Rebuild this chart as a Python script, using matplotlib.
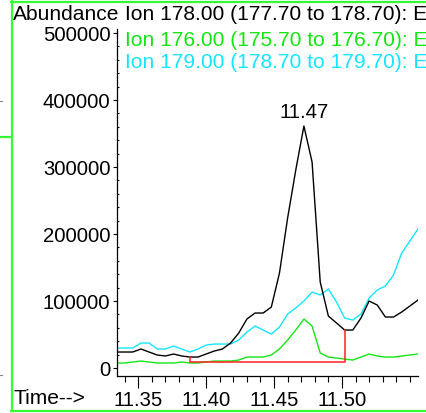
import matplotlib
matplotlib.use("Agg")
import matplotlib.pyplot as plt
from matplotlib.lines import Line2D
from matplotlib.ticker import MultipleLocator

plt.rcParams['font.family'] = ['Liberation Sans', 'DejaVu Sans']

# Retention time of each scan (min)
scan_times = [11.334, 11.340, 11.346, 11.352, 11.358, 11.364, 11.370, 11.376,
              11.382, 11.388, 11.394, 11.400, 11.406, 11.412, 11.418, 11.424,
              11.430, 11.436, 11.442, 11.448, 11.454, 11.460, 11.466, 11.472,
              11.478, 11.484, 11.490, 11.496, 11.502, 11.508, 11.514, 11.520,
              11.526, 11.532, 11.538, 11.544, 11.550, 11.556]

# Extracted ion abundances
ion_178 = [23900, 23900, 23900, 28400, 23900, 19400, 18000, 20900,
           18000, 16400, 16400, 20900, 25400, 28400, 37300, 52200,
           73100, 82100, 82100, 91000, 141800, 223900, 295500, 361200,
           307500, 128400, 77600, 67200, 56700, 56700, 74600, 100000,
           94000, 76100, 76100, 83600, 92500, 101500]
ion_176 = [7500, 7500, 9000, 10400, 9000, 7500, 7500, 7500,
           9000, 7500, 7500, 9000, 10400, 10400, 10400, 11900,
           16400, 16400, 16400, 19400, 28400, 41800, 56700, 73100,
           62700, 22400, 16400, 14900, 13400, 11900, 16400, 20900,
           17900, 16400, 16400, 17900, 19400, 20900]
ion_179 = [29900, 29900, 29900, 37300, 37300, 28400, 28400, 32800,
           28400, 23900, 28400, 34300, 35800, 35800, 35800, 41800,
           53700, 62700, 56700, 50700, 61200, 80600, 89600, 100000,
           113400, 109000, 117900, 98500, 74600, 71600, 80600, 104500,
           116400, 122400, 138800, 171600, 189500, 207500]

trace_labels = ["Ion 178.00 (177.70 to 178.70): E",
                "Ion 176.00 (175.70 to 176.70): E",
                "Ion 179.00 (178.70 to 179.70): E"]

# Integration of the 178 peak
peak_start_idx = 9
peak_end_idx = 28
baseline_level = 9000
peak_label = "11.47"

black = "#000000"
green = "#14e614"
cyan = "#14e6ff"
frame_green = "#33ff33"
fs_tick = 14.6
fs_head = 15.1

fig = plt.figure(figsize=(4.26, 4.13), dpi=100)
ax = fig.add_axes([116.5 / 426, 37 / 413, (418 - 116.5) / 426, (376 - 29) / 413])

ax.plot(scan_times, ion_176, color=green, lw=1.0)
ax.plot(scan_times, ion_179, color=cyan, lw=1.0)
ax.plot(scan_times, ion_178, color=black, lw=1.0)

# baseline drawn under the integrated peak
t0 = scan_times[peak_start_idx]
t1 = scan_times[peak_end_idx]
ax.plot([t0, t0, t1, t1],
        [ion_178[peak_start_idx], baseline_level, baseline_level, ion_178[peak_end_idx]],
        color="#ff2020", lw=1.1)

apex = ion_178.index(max(ion_178))
ax.annotate(peak_label, xy=(scan_times[apex], ion_178[apex]), xytext=(0, 9.5),
            textcoords="offset points", ha="center", va="center", fontsize=fs_tick)

ax.set_xlim(scan_times[0], scan_times[-1])
ax.set_ylim(-11900, 506000)

for s in ("top", "right"):
    ax.spines[s].set_visible(False)
for s in ("left", "bottom"):
    ax.spines[s].set_linewidth(0.9)

ax.set_xticks([11.35, 11.40, 11.45, 11.50])
ax.set_xticklabels(["11.35", "11.40", "11.45", "11.50"])
ax.xaxis.set_minor_locator(MultipleLocator(0.01))
ax.set_yticks([0, 100000, 200000, 300000, 400000, 500000])
ax.set_yticklabels(["0", "100000", "200000", "300000", "400000", "500000"])
ax.yaxis.set_minor_locator(MultipleLocator(20000))

ax.tick_params(axis="x", which="major", direction="out", length=8.6, width=0.8,
               pad=2.3, labelsize=fs_tick)
ax.tick_params(axis="x", which="minor", direction="out", length=4.3, width=0.8)
ax.tick_params(axis="y", which="major", direction="out", length=2.9, width=0.8,
               pad=1.5, labelsize=fs_tick)
ax.tick_params(axis="y", which="minor", direction="in", length=1.5, width=0.8)

# header texts
fig.text(13 / 426, 1 - 15 / 413, "Abundance", fontsize=fs_head, ha="left", va="center")
for lbl, col, ypx in zip(trace_labels, [black, green, cyan], [15, 41, 63]):
    fig.text(125 / 426, 1 - ypx / 413, lbl, fontsize=fs_head, color=col, ha="left", va="center")
fig.text(13 / 426, 1 - 399 / 413, "Time-->", fontsize=fs_head, ha="left", va="center")

# window frame
def frame_line(xs, ys, color=frame_green, lw=1.6):
    fig.add_artist(Line2D([x / 426 for x in xs], [1 - y / 413 for y in ys],
                          color=color, lw=lw, transform=fig.transFigure))

frame_line([11.5, 11.5], [0, 411])
frame_line([11, 426], [2, 2])
frame_line([11, 426], [411, 411])
frame_line([0, 11], [137, 137])
frame_line([0, 2], [101, 101], color="#888888", lw=0.8)
frame_line([0, 2], [375, 375], color="#888888", lw=0.8)

fig.savefig("out.png", dpi=100)
